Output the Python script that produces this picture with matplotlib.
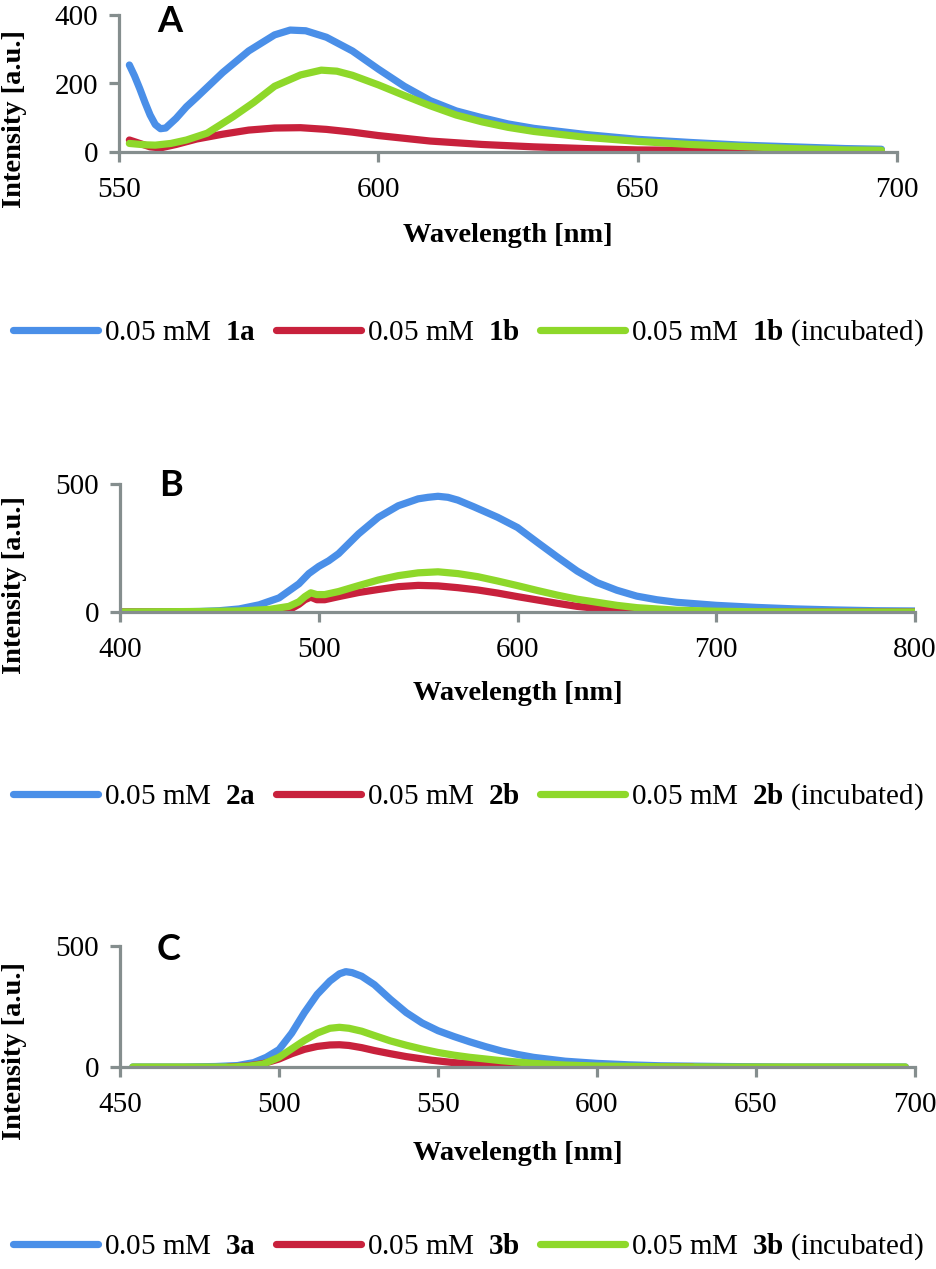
import numpy as np
import matplotlib
matplotlib.use('Agg')
import matplotlib.pyplot as plt

W, H = 937, 1269

# ---- panel A : 1a / 1b ----
a_x_1a = [552, 553, 554, 555, 556, 557, 558, 559, 561, 563, 565, 570, 575, 580, 583, 586,
          590, 595, 600, 605, 610, 615, 620, 625, 630, 640, 650, 660, 670, 680, 690, 697]
a_y_1a = [254, 222, 185, 145, 108, 80, 68, 70, 98, 132, 160, 232, 295, 342, 356, 354,
          335, 295, 242, 192, 150, 120, 100, 82, 69, 51, 37, 28, 20, 15, 10, 8]
a_x_1b = [552, 554, 556, 558, 561, 565, 570, 575, 580, 585, 590, 595, 600, 605, 610,
          620, 630, 640, 650, 660, 670, 680, 690, 697]
a_y_1b = [35, 25, 15, 12, 22, 38, 52, 64, 70, 71, 66, 58, 48, 40, 32,
          22, 15, 10, 6, 5, 4, 3, 2, 2]
a_x_1bi = [552, 555, 557, 560, 563, 567, 572, 576, 580, 585, 589, 592, 595, 600, 605,
           610, 615, 620, 625, 630, 640, 650, 660, 670, 680, 690, 697]
a_y_1bi = [25, 21, 20, 25, 35, 55, 103, 145, 192, 225, 239, 236, 224, 196, 165,
           135, 108, 88, 72, 60, 43, 31, 22, 16, 10, 6, 5]

# ---- panel B : 2a / 2b ----
b_x_2a = [400, 420, 440, 450, 460, 470, 480, 490, 495, 500, 505, 510, 520, 530, 540,
          550, 555, 560, 565, 570, 578, 590, 600, 610, 620, 630, 640, 650, 660, 670, 680,
          690, 700, 720, 740, 760, 780, 800]
b_y_2a = [0, 0, 2, 5, 12, 28, 55, 110, 150, 178, 200, 228, 305, 370, 415,
          442, 448, 452, 448, 437, 411, 370, 330, 272, 215, 160, 115, 85, 62, 48, 38,
          32, 26, 18, 12, 8, 5, 4]
b_x_2b = [400, 466, 480, 485, 490, 493, 496, 499, 503, 510, 520, 530, 540, 550, 560,
          570, 580, 590, 600, 610, 620, 630, 640, 650, 660, 670, 690, 800]
b_y_2b = [0, 0, 4, 8, 30, 48, 58, 48, 48, 60, 76, 88, 99, 104, 102,
          95, 86, 74, 60, 47, 34, 22, 14, 8, 4, 2, 0, 0]
b_x_2bi = [400, 440, 460, 475, 485, 490, 493, 496, 499, 503, 510, 520, 530, 540, 550,
           560, 570, 580, 590, 600, 610, 620, 630, 640, 650, 660, 670, 680, 690, 700,
           720, 750, 800]
b_y_2bi = [0, 2, 4, 10, 22, 40, 60, 75, 68, 68, 80, 103, 125, 142, 153,
           157, 150, 138, 121, 103, 84, 66, 50, 38, 26, 17, 12, 7, 5, 3,
           1, 0, 0]

# ---- panel C : 3a / 3b ----
c_x_3a = [454, 470, 480, 487, 492, 496, 500, 504, 508, 512, 516, 519, 521, 523, 526,
          530, 535, 540, 545, 550, 555, 560, 565, 570, 575, 580, 590, 600, 610, 620,
          640, 660, 697]
c_y_3a = [0, 0, 2, 6, 18, 40, 72, 140, 225, 300, 355, 385, 394, 390, 375,
          340, 280, 225, 182, 150, 126, 104, 84, 66, 52, 40, 24, 15, 9, 5,
          2, 0, 0]
c_x_3b = [484, 490, 495, 500, 504, 508, 512, 516, 519, 522, 526, 530, 535, 540, 548,
          555, 563, 570, 582, 590, 630]
c_y_3b = [0, 4, 14, 33, 55, 73, 85, 91, 92, 89, 80, 68, 55, 43, 28,
          18, 11, 6, 1, 0, 0]
c_x_3bi = [454, 485, 490, 495, 500, 504, 508, 512, 516, 519, 522, 526, 530, 535, 540,
           545, 550, 555, 560, 570, 580, 590, 600, 620, 640, 697]
c_y_3bi = [0, 0, 3, 12, 40, 75, 110, 140, 160, 164, 160, 148, 130, 108, 90,
           74, 60, 49, 40, 26, 15, 8, 4, 1, 0, 0]

BLUE = '#4a8fe8'
RED = '#c8213c'
GREEN = '#8ed82a'
AXCOL = '#858e8e'

plt.rcParams['font.family'] = 'Liberation Serif'
plt.rcParams['mathtext.fontset'] = 'custom'
plt.rcParams['mathtext.rm'] = 'Liberation Serif'
plt.rcParams['mathtext.bf'] = 'Liberation Serif:bold'

fig = plt.figure(figsize=(W / 100, H / 100), dpi=100)


def fx(px):
    return px / W


def fy(py):
    return 1 - py / H


def make_ax(left, right, top, bottom):
    ax = fig.add_axes([fx(left), fy(bottom), fx(right - left), (bottom - top) / H])
    for s in ['top', 'right']:
        ax.spines[s].set_visible(False)
    for s in ['left', 'bottom']:
        ax.spines[s].set_color(AXCOL)
        ax.spines[s].set_linewidth(2.3)
    ax.tick_params(direction='out', length=7, width=2.3, color=AXCOL, labelsize=21)
    ax.tick_params(axis='x', pad=11)
    ax.tick_params(axis='y', pad=8)
    return ax


panels = [
    dict(box=(119, 897, 15, 152), xlim=(550, 700), xt=[550, 600, 650, 700],
         ylim=(0, 400), yt=[0, 200, 400],
         series=[(a_x_1a, a_y_1a, BLUE), (a_x_1b, a_y_1b, RED), (a_x_1bi, a_y_1bi, GREEN)],
         names=['1a', '1b'], letter='A', let_xy=(170, 21), ylab_y=119, xlab_y=236, leg_y=333),
    dict(box=(120, 915, 484, 612), xlim=(400, 800), xt=[400, 500, 600, 700, 800],
         ylim=(0, 500), yt=[0, 500],
         series=[(b_x_2a, b_y_2a, BLUE), (b_x_2b, b_y_2b, RED), (b_x_2bi, b_y_2bi, GREEN)],
         names=['2a', '2b'], letter='B', let_xy=(171, 486), ylab_y=585, xlab_y=694, leg_y=797),
    dict(box=(120, 915, 946, 1067), xlim=(450, 700), xt=[450, 500, 550, 600, 650, 700],
         ylim=(0, 500), yt=[0, 500],
         series=[(c_x_3a, c_y_3a, BLUE), (c_x_3b, c_y_3b, RED), (c_x_3bi, c_y_3bi, GREEN)],
         names=['3a', '3b'], letter='C', let_xy=(169, 950), ylab_y=1051, xlab_y=1154, leg_y=1247),
]

for p in panels:
    left, right, top, bottom = p['box']
    ax = make_ax(left, right, top, bottom)
    lines = []
    for xs, ys, c in p['series']:
        ln, = ax.plot(xs, ys, color=c, lw=5.2, solid_capstyle='round', solid_joinstyle='round')
        lines.append(ln)
    ax.set_xlim(p['xlim'])
    ax.set_ylim(p['ylim'])
    ax.set_xticks(p['xt'])
    ax.set_yticks(p['yt'])
    ax.patch.set_alpha(0)

    fig.text(fx(p['let_xy'][0]), fy(p['let_xy'][1]), p['letter'], family='Lato',
             weight='bold', fontsize=26, ha='center', va='center')
    fig.text(fx(15), fy(p['ylab_y']), 'Intensity [a.u.]', rotation=90, weight='bold',
             fontsize=20.5, ha='center', va='center')
    fig.text(fx((left + right) / 2), fy(p['xlab_y']), 'Wavelength [nm]', weight='bold',
             fontsize=20.5, ha='center', va='center')

    n1, n2 = p['names']
    labels = [r'0.05 mM  $\mathbf{%s}$' % n1,
              r'0.05 mM  $\mathbf{%s}$' % n2,
              r'0.05 mM  $\mathbf{%s}$ (incubated)' % n2]
    fig.legend(lines, labels, loc='center', bbox_to_anchor=(0.5, fy(p['leg_y'])), ncol=3,
               frameon=False, fontsize=21, handlelength=2.9, handletextpad=0.2,
               columnspacing=0.7, borderaxespad=0)

fig.savefig('out.png', dpi=100)
